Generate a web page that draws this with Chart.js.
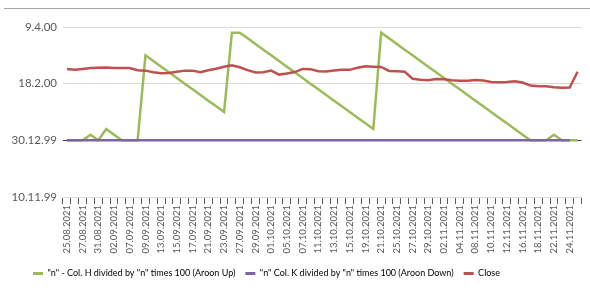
<!DOCTYPE html>
<html>
<head>
<meta charset="utf-8">
<script src="https://cdn.jsdelivr.net/npm/chart.js@4"></script>
<style>
  body { margin: 0; background: #fff; }
  #wrap { position: relative; width: 590px; height: 291px; }
  #topLine { position: absolute; left: 4px; top: 8px; width: 586px; border-top: 1px solid #a6a6a6; }
</style>
</head>
<body>
<div id="wrap">
  <div id="topLine"></div>
  <canvas id="chart" width="590" height="291"></canvas>
</div>
<script>
// Trading days (categories)
const dates = [
  '25.08.2021', '26.08.2021', '27.08.2021', '30.08.2021', '31.08.2021',
  '01.09.2021', '02.09.2021', '03.09.2021', '07.09.2021', '08.09.2021', '09.09.2021', '10.09.2021',
  '13.09.2021', '14.09.2021', '15.09.2021', '16.09.2021', '17.09.2021', '20.09.2021', '21.09.2021',
  '22.09.2021', '23.09.2021', '24.09.2021', '27.09.2021', '28.09.2021', '29.09.2021', '30.09.2021',
  '01.10.2021', '04.10.2021', '05.10.2021', '06.10.2021', '07.10.2021', '08.10.2021', '11.10.2021',
  '12.10.2021', '13.10.2021', '14.10.2021', '15.10.2021', '18.10.2021', '19.10.2021', '20.10.2021',
  '21.10.2021', '22.10.2021', '25.10.2021', '26.10.2021', '27.10.2021', '28.10.2021', '29.10.2021',
  '01.11.2021', '02.11.2021', '03.11.2021', '04.11.2021', '05.11.2021', '08.11.2021', '09.11.2021',
  '10.11.2021', '11.11.2021', '12.11.2021', '15.11.2021', '16.11.2021', '17.11.2021', '18.11.2021',
  '19.11.2021', '22.11.2021', '23.11.2021', '24.11.2021', '26.11.2021'
];

// "n" - Col. H divided by "n" times 100 (Aroon Up)
const aroonUp = [
  0, 0, 0, 5, 0, 10, 5, 0, 0, 0,
  75, 70, 65, 60, 55, 50, 45, 40, 35, 30, 25,
  95, 95, 90, 85, 80, 75, 70, 65, 60, 55, 50, 45, 40, 35, 30, 25, 20, 15, 10,
  95, 90, 85, 80, 75, 70, 65, 60, 55, 50, 45, 40, 35, 30, 25, 20, 15, 10, 5, 0,
  0, 0, 5, 0, 0, 0
];

// "n" Col. K divided by "n" times 100 (Aroon Down) - last day missing
const aroonDown = [
  0, 0, 0, 0, 0, 0, 0, 0, 0, 0, 0, 0, 0, 0, 0, 0, 0, 0, 0, 0, 0, 0,
  0, 0, 0, 0, 0, 0, 0, 0, 0, 0, 0, 0, 0, 0, 0, 0, 0, 0, 0, 0, 0, 0,
  0, 0, 0, 0, 0, 0, 0, 0, 0, 0, 0, 0, 0, 0, 0, 0, 0, 0, 0, 0, 0
];

// Close
const closeVals = [
  63, 62.2, 63, 63.8, 64, 64.2, 63.8, 63.8, 63.8, 61.8,
  61.5, 60, 59.3, 59.5, 60.5, 61.5, 61.5, 60, 61.8, 63.2,
  65, 66.3, 64.5, 62, 59.8, 60, 61.5, 58, 59, 60.2,
  63, 62.8, 61, 60.8, 61.7, 62.3, 62.2, 64, 65.3, 65,
  64.7, 61.2, 61, 60.5, 54.3, 53.5, 53, 54.2, 53.8, 53,
  52.5, 52.5, 53.3, 52.8, 51.5, 51.3, 51.5, 52.2, 51, 48.3,
  47.8, 47.8, 46.9, 46.3, 46.5, 60.5
];

// y axis: numbers shown in a date format
const yTickValues = [-50, 0, 50, 100];
const yTickLabels = ['10.11.99', '30.12.99', '18.2.00', '9.4.00'];

const seriesNames = [
  '"n" - Col. H divided by "n" times 100 (Aroon Up)',
  '"n" Col. K divided by "n" times 100 (Aroon Down)',
  'Close'
];
const seriesColors = ['#9bbb59', '#8064a2', '#c0504d'];

// legend starts a bit in from the left edge, like the original
const legendShift = {
  id: 'legendShift',
  afterLayout(chart) {
    chart.legend.left += 23;
  }
};

const ctx = document.getElementById('chart').getContext('2d');
new Chart(ctx, {
  type: 'line',
  data: {
    labels: dates,
    datasets: [
      { label: seriesNames[0], data: aroonUp, order: 3 },
      { label: seriesNames[1], data: aroonDown, order: 2 },
      { label: seriesNames[2], data: closeVals, order: 1 }
    ].map((ds, i) => Object.assign(ds, {
      borderColor: seriesColors[i],
      backgroundColor: seriesColors[i],
      borderWidth: 2.5,
      pointRadius: 0,
      tension: 0,
      fill: false
    }))
  },
  plugins: [legendShift],
  options: {
    responsive: false,
    animation: false,
    events: [],
    layout: { padding: { left: 0, right: 7, top: 27, bottom: 3 } },
    scales: {
      x: {
        offset: true,
        border: { color: '#d9d9d9' },
        grid: {
          offset: true,
          drawOnChartArea: false,
          drawTicks: true,
          tickLength: 7,
          color: '#595959'
        },
        ticks: {
          autoSkip: false,
          maxRotation: 90,
          minRotation: 90,
          padding: 1,
          color: '#595959',
          font: { family: 'Lato', size: 9.5 },
          callback: (v, i) => (i % 2 === 0 ? dates[i] : '')
        },
        afterFit: scale => { scale.height = 62; }
      },
      y: {
        min: -50,
        max: 100,
        border: { display: false },
        grid: {
          drawTicks: false,
          color: c => (c.tick.value === 0 ? '#404040' : '#d9d9d9'),
          lineWidth: 1
        },
        ticks: {
          stepSize: 50,
          padding: 6,
          color: '#595959',
          font: { family: 'Lato', size: 11.5 },
          callback: v => yTickLabels[yTickValues.indexOf(v)]
        },
        afterFit: scale => { scale.width = 63; }
      }
    },
    plugins: {
      tooltip: { enabled: false },
      legend: {
        position: 'bottom',
        align: 'start',
        labels: {
          boxWidth: 10,
          boxHeight: 3,
          padding: 10,
          color: '#595959',
          font: { family: 'Lato', size: 9 },
          generateLabels: chart => chart.data.datasets.map((ds, i) => ({
            text: ds.label,
            fillStyle: ds.borderColor,
            strokeStyle: ds.borderColor,
            lineWidth: 0,
            hidden: false,
            datasetIndex: i
          }))
        }
      }
    }
  }
});
</script>
</body>
</html>
